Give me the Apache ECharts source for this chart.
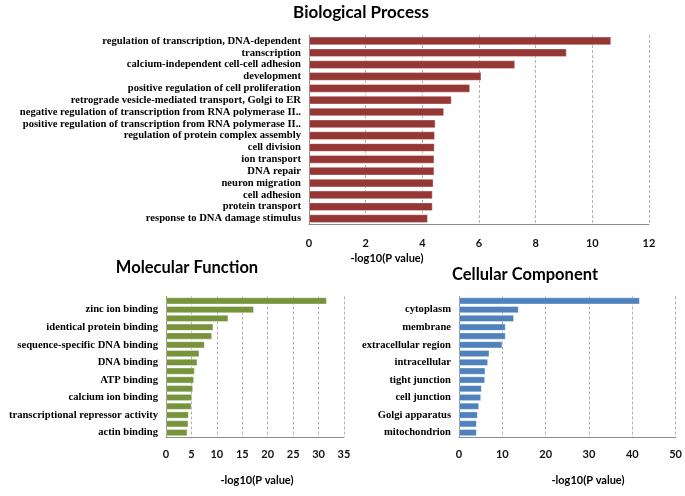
<!DOCTYPE html>
<html><head><meta charset="utf-8">
<script src="https://cdn.jsdelivr.net/npm/echarts@6/dist/echarts.min.js"></script>
<style>html,body{margin:0;padding:0;background:#fff}#c{width:685px;height:496px}</style>
</head><body><div id="c"></div>
<script>
const bpLabels = ["regulation of transcription, DNA-dependent","transcription","calcium-independent cell-cell adhesion","development","positive regulation of cell proliferation","retrograde vesicle-mediated transport, Golgi to ER","negative regulation of transcription from RNA polymerase II..","positive regulation of transcription from RNA polymerase II..","regulation of protein complex assembly","cell division","ion transport","DNA repair","neuron migration","cell adhesion","protein transport","response to DNA damage stimulus"];
const bpValues = [10.66,9.09,7.27,6.08,5.68,5.03,4.76,4.46,4.44,4.43,4.42,4.42,4.39,4.36,4.36,4.19];
const mfLabels = ["zinc ion binding","identical protein binding","sequence-specific DNA binding","DNA binding","ATP binding","calcium ion binding","transcriptional repressor activity","actin binding"];
const mfValues = [31.6,17.27,12.23,9.29,9.03,7.59,6.54,6.15,5.62,5.49,5.30,5.10,4.97,4.45,4.38,4.19];
const ccLabels = ["cytoplasm","membrane","extracellular region","intracellular","tight junction","cell junction","Golgi apparatus","mitochondrion"];
const ccValues = [41.7,13.75,12.67,10.75,10.75,9.98,6.99,6.68,6.07,5.99,5.22,5.07,4.61,4.30,4.07,4.07];
const bpTicks = [0,2,4,6,8,10,12];
const mfTicks = [0,5,10,15,20,25,30,35];
const ccTicks = [0,10,20,30,40,50];
const axisTitle = "-log10(P value)";

function cats(labels, n){ const a=[]; for(let i=0;i<n;i++){ a.push(i%2===1 ? labels[(i-1)/2] : ''); } return a; }

const chart = echarts.init(document.getElementById('c'), null, {renderer:'canvas'});
const tickFont = {fontFamily:'Lato', fontWeight:'bold', fontSize:11, color:'#111'};
const catFont = {fontFamily:'Liberation Serif', fontWeight:'bold', fontSize:10.6, color:'#000'};
function xAx(gi, ticks, margin){
  return {type:'value', gridIndex:gi, min:ticks[0], max:ticks[ticks.length-1], interval:ticks[1]-ticks[0],
    axisLine:{show:true, lineStyle:{color:'#8c8c8c', width:1}}, axisTick:{show:false},
    splitLine:{show:true, lineStyle:{color:'#b0b0b0', type:[3,2], width:1}},
    axisLabel:Object.assign({margin:margin}, tickFont)};
}
function yAx(gi, data){
  return {type:'category', gridIndex:gi, inverse:true, data:data,
    axisLine:{show:true, lineStyle:{color:'#8c8c8c', width:1}}, axisTick:{show:false},
    axisLabel:Object.assign({interval:0, margin:8}, catFont)};
}
function bar(gi, data, color, gap){
  return {type:'bar', xAxisIndex:gi, yAxisIndex:gi, data:data, barCategoryGap:gap,
    itemStyle:{color:color, borderColor:'rgba(255,255,255,0.6)', borderWidth:0.6}, animation:false};
}
function txt(x,y,text,size,weight){
  return {type:'text', x:x, y:y, style:{text:text, align:'center', verticalAlign:'middle', fontFamily:'Lato', fontSize:size, fontWeight:weight, fill:'#000'}};
}
chart.setOption({
  animation:false,
  grid:[
    {left:309, width:340, top:35, height:189.5},
    {left:166, width:178, top:296.5, height:140.5},
    {left:459, width:217, top:296.5, height:140.5}
  ],
  xAxis:[xAx(0,bpTicks,13), xAx(1,mfTicks,12), xAx(2,ccTicks,12)],
  yAxis:[yAx(0,bpLabels), yAx(1,cats(mfLabels,mfValues.length)), yAx(2,cats(ccLabels,ccValues.length))],
  series:[bar(0,bpValues,'#953735','30%'), bar(1,mfValues,'#77933c','22%'), bar(2,ccValues,'#4f81bd','22%')],
  graphic:[
    txt(361,13,'Biological Process',17,'bold'),
    txt(387,258,axisTitle,11,'bold'),
    txt(187,268,'Molecular Function',16.5,'bold'),
    txt(525,275,'Cellular Component',16.5,'bold'),
    txt(257,480,axisTitle,11,'bold'),
    txt(588,480,axisTitle,11,'bold')
  ]
});
</script></body></html>
